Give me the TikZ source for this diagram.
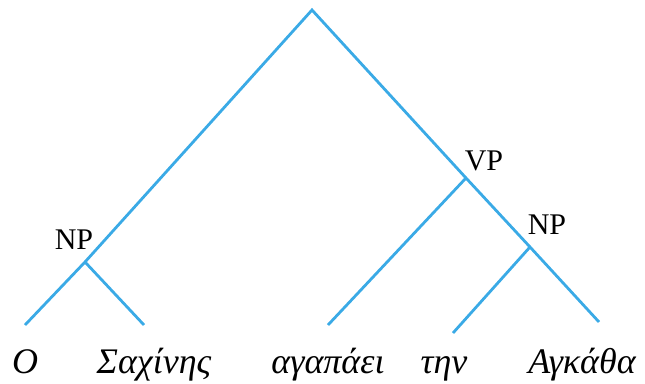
\documentclass[tikz,border=0pt]{standalone}
\usepackage{fontspec}
\setmainfont{Liberation Serif}
\definecolor{branch}{RGB}{58,170,230}
\begin{document}
\begin{tikzpicture}[x=1pt,y=-1pt,every node/.style={black},
    edge/.style={branch,line width=2.8pt},
    cat/.style={font=\fontsize{30}{30}\selectfont},
    word/.style={font=\fontsize{36}{36}\selectfont\itshape,anchor=base}]
    \useasboundingbox (0,0) rectangle (645,383);

    % tree points
    \coordinate (s) at (312,10);
    \coordinate (np1) at (85,262);
    \coordinate (vp) at (466,178);
    \coordinate (np2) at (530,247);
    \coordinate (o) at (25,325);
    \coordinate (sachinis) at (144,325);
    \coordinate (agapaei) at (328,325);
    \coordinate (tin) at (453,333);
    \coordinate (agkatha) at (599,322);

    \draw[edge] (o) -- (np1) -- (s) -- (vp) -- (np2) -- (agkatha);
    \draw[edge] (np1) -- (sachinis);
    \draw[edge] (vp) -- (agapaei);
    \draw[edge] (np2) -- (tin);

    % labels
    \node[cat] (lnp1) at (74,240) {NP};
    \node[cat] (lvp) at (484,161) {VP};
    \node[cat] (lnp2) at (547,225) {NP};

    \node[word] (wo) at (25,373) {Ο};
    \node[word] (wsachinis) at (154,373) {Σαχίνης};
    \node[word] (wagapaei) at (328,373) {αγαπάει};
    \node[word] (wtin) at (444,373) {την};
    \node[word] (wagkatha) at (582,373) {Αγκάθα};
\end{tikzpicture}
\end{document}
